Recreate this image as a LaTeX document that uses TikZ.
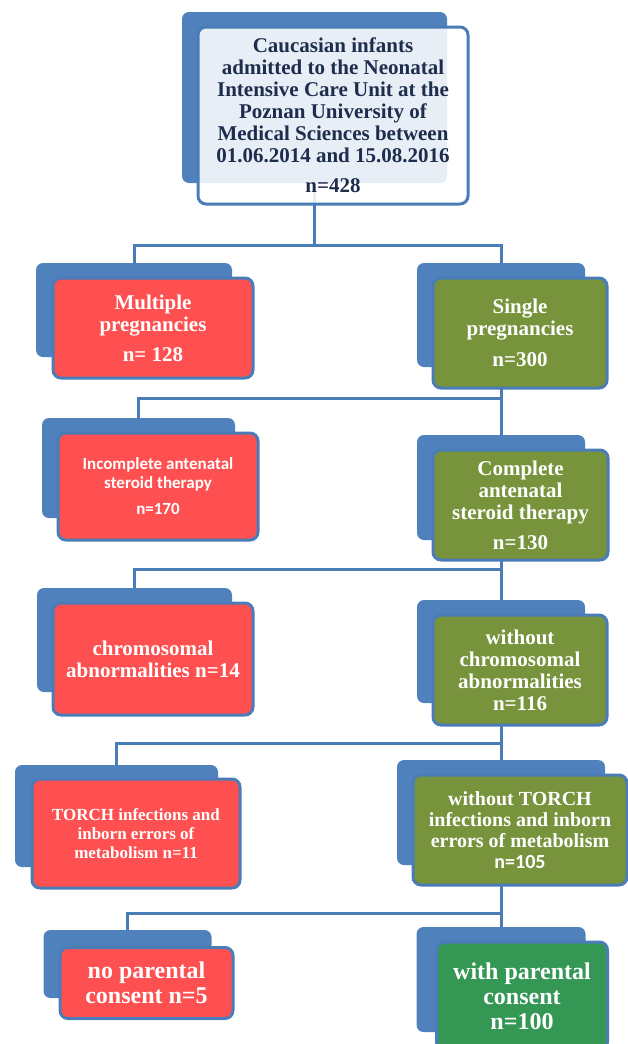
\documentclass[tikz,border=0pt]{standalone}
\usepackage{fontspec}
\setmainfont{Liberation Serif}
\setsansfont{Carlito}
\usetikzlibrary{backgrounds}
\definecolor{shade}{RGB}{79,129,189}
\definecolor{edge}{RGB}{74,124,184}
\definecolor{ink}{RGB}{30,45,78}
\definecolor{drop}{RGB}{254,80,80}
\definecolor{stay}{RGB}{119,147,60}
\definecolor{done}{RGB}{52,152,84}
\newcommand\fsz[2]{\fontsize{#1}{#2}\selectfont}
\tikzset{
  every picture/.style={x=1pt, y=-1pt},
  wh/.style 2 args={minimum width=#1, minimum height=#2},
  back/.style={fill=shade, rounded corners=7pt, inner sep=0pt},
  card/.style={draw=edge, line width=3pt, rounded corners=8pt, inner sep=0pt, align=center, text=white, font=\bfseries\fsz{21}{22}},
  start/.style={card, fill=white, fill opacity=0.87, text opacity=1, text=ink},
  dropbox/.style={card, fill=drop},
  staybox/.style={card, fill=stay},
  donebox/.style={card, fill=done},
  link/.style={draw=edge, line width=3pt},
}

\begin{document}
\begin{tikzpicture}
  \useasboundingbox (0,0) rectangle (628,1044);

  \node[back, wh={265pt}{171pt}] (topb) at (314.5,97.5) {};
  \node[start, wh={270pt}{177pt}] (top) at (333,115.5)
    {Caucasian infants\\admitted to the Neonatal\\Intensive Care Unit at the\\Poznan University of\\Medical Sciences between\\01.06.2014 and 15.08.2016\\[8pt]n=428};

  \node[back, wh={196pt}{94pt}] (multb) at (134,310) {};
  \node[dropbox, wh={200pt}{100pt}] (mult) at (153,328) {Multiple\\pregnancies\\[8pt]n= 128};
  \node[back, wh={168pt}{104pt}] (singb) at (501,315) {};
  \node[staybox, wh={174pt}{110pt}] (sing) at (520,333) {Single\\pregnancies\\[9pt]n=300};

  \node[back, wh={193pt}{100pt}] (incb) at (138.5,468) {};
  \node[dropbox, wh={200pt}{107pt}, font=\sffamily\bfseries\fsz{17}{19}] (inc) at (158,486.5)
    {Incomplete antenatal\\steroid therapy\\[7pt]n=170};
  \node[back, wh={168pt}{105pt}] (compb) at (501,487.5) {};
  \node[staybox, wh={175pt}{110pt}] (comp) at (520.5,505) {Complete\\antenatal\\steroid therapy\\[8pt]n=130};

  \node[back, wh={195pt}{104pt}] (chromb) at (134.5,640) {};
  \node[dropbox, wh={200pt}{112pt}] (chrom) at (153,659) {chromosomal\\abnormalities n=14};
  \node[back, wh={168pt}{103pt}] (wochromb) at (501,651.5) {};
  \node[staybox, wh={174pt}{110pt}] (wochrom) at (520,670) {without\\chromosomal\\abnormalities\\n=116};

  \node[back, wh={203pt}{102pt}] (torchb) at (116.5,816) {};
  \node[dropbox, wh={208pt}{109pt}, font=\bfseries\fsz{17}{19}] (torch) at (136,833.5)
    {TORCH infections and\\inborn errors of\\metabolism n=11};
  \node[back, wh={208pt}{105pt}] (wotorchb) at (501,812.5) {};
  \node[staybox, wh={214pt}{110pt}, font=\bfseries\fsz{20}{21}] (wotorch) at (520,830)
    {without TORCH\\infections and inborn\\errors of metabolism\\{\sffamily n=105}};

  \node[back, wh={168pt}{68pt}] (noconsb) at (127.5,964) {};
  \node[dropbox, wh={173pt}{71pt}, font=\bfseries\fsz{24}{25}] (nocons) at (146.5,983) {no parental\\consent n=5};
  \node[back, wh={169pt}{105pt}] (consb) at (501,979.5) {};
  \node[donebox, wh={171pt}{108pt}, font=\bfseries\fsz{24}{25}] (cons) at (522,996) {with parental\\consent\\n=100};

  \coordinate (j1) at (314.5,245);
  \coordinate (j2) at (501,398);
  \coordinate (j3) at (501,569);
  \coordinate (j4) at (501,743);
  \coordinate (j5) at (501,913);

  \begin{scope}[on background layer]
    \draw[link] (topb.south) -- (j1);
    \draw[link] (multb.north) |- (j1) -| (singb.north);
    \draw[link] (singb.south) -- (compb.north);
    \draw[link] (incb.north) |- (j2);
    \draw[link] (compb.south) -- (wochromb.north);
    \draw[link] (chromb.north) |- (j3);
    \draw[link] (wochromb.south) -- (wotorchb.north);
    \draw[link] (torchb.north) |- (j4);
    \draw[link] (wotorchb.south) -- (consb.north);
    \draw[link] (noconsb.north) |- (j5);
  \end{scope}
\end{tikzpicture}
\end{document}
